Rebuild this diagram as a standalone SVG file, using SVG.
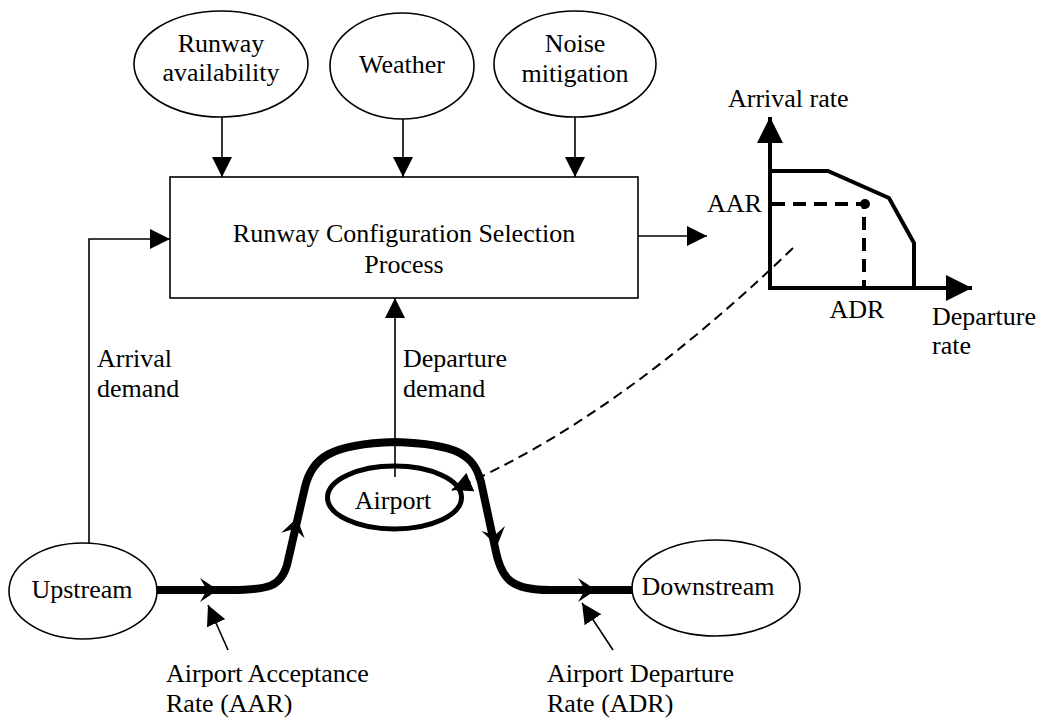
<svg xmlns="http://www.w3.org/2000/svg" width="1040" height="721" viewBox="0 0 1040 721">
<style>
text{font-family:"Liberation Serif","Times New Roman",serif;font-size:26px;fill:#000}
.c{text-anchor:middle}
.thin{fill:#fff;stroke:#000;stroke-width:1.6}
.ln{fill:none;stroke:#000;stroke-width:1.6}
.thick{fill:none;stroke:#000;stroke-width:8;stroke-linejoin:round}
.ax{fill:none;stroke:#000;stroke-width:4}
.dash{fill:none;stroke:#000;stroke-width:4;stroke-dasharray:13 8}
</style>
<defs>
<marker id="arr" markerUnits="userSpaceOnUse" markerWidth="20" markerHeight="20" refX="20" refY="10" orient="auto" viewBox="0 0 20 20">
<path d="M0,0 L20,10 L0,20 Z" fill="#000"/>
</marker>
<marker id="big" markerUnits="userSpaceOnUse" markerWidth="26" markerHeight="26" refX="26" refY="13" orient="auto" viewBox="0 0 26 26">
<path d="M0,0 L26,13 L0,26 Z" fill="#000"/>
</marker>
<path id="chev" d="M0,0 L-18,-12 L-11,0 L-18,12 Z" fill="#000"/>
</defs>

<g id="connectors">
<line class="ln" x1="222" y1="117" x2="222" y2="177" marker-end="url(#arr)"/>
<line class="ln" x1="403" y1="119" x2="403" y2="177" marker-end="url(#arr)"/>
<line class="ln" x1="575" y1="117" x2="575" y2="177" marker-end="url(#arr)"/>
<polyline class="ln" points="89,543 89,239 170,239" marker-end="url(#arr)"/>
<line class="ln" x1="638" y1="236" x2="707" y2="236" marker-end="url(#arr)"/>
<line class="ln" x1="395" y1="477" x2="395" y2="298" marker-end="url(#arr)"/>
<path class="thick" d="M157,590 L230,590 C270,590 281,586 287,565 L305,487 C312,458 330,444 395,442 C458,444 474,455 481,482 L496,552 C502,580 512,590 550,590 L632,590"/>
<use href="#chev" transform="translate(218,590)"/>
<use href="#chev" transform="translate(297,518) rotate(-77)"/>
<use href="#chev" transform="translate(497,546) rotate(78)"/>
<use href="#chev" transform="translate(596,590)"/>
<line class="ln" x1="228" y1="650" x2="208" y2="605" marker-end="url(#arr)"/>
<line class="ln" x1="613" y1="650" x2="582" y2="603" marker-end="url(#arr)"/>
<path d="M793,248 Q615,420 452,490" fill="none" stroke="#000" stroke-width="2" stroke-dasharray="10 6" marker-end="url(#arr)"/>
</g>

<g id="runway-availability">
<ellipse class="thin" cx="221" cy="64" rx="87" ry="53"/>
<text class="c" x="221" y="52">Runway</text>
<text class="c" x="221" y="81">availability</text>
</g>
<g id="weather">
<ellipse class="thin" cx="402" cy="66" rx="72" ry="53"/>
<text class="c" x="402" y="73">Weather</text>
</g>
<g id="noise-mitigation">
<ellipse class="thin" cx="575" cy="64" rx="81" ry="53"/>
<text class="c" x="575" y="52">Noise</text>
<text class="c" x="575" y="82">mitigation</text>
</g>
<g id="process">
<rect class="thin" x="170" y="177" width="468" height="121"/>
<text class="c" x="404" y="242">Runway Configuration Selection</text>
<text class="c" x="404" y="273">Process</text>
</g>
<g id="upstream">
<ellipse class="thin" cx="83" cy="591" rx="74" ry="48"/>
<text class="c" x="82" y="598">Upstream</text>
</g>
<g id="airport">
<ellipse cx="394.5" cy="497.5" rx="67" ry="31.5" fill="none" stroke="#000" stroke-width="5"/>
<text class="c" x="393" y="509">Airport</text>
</g>
<g id="downstream">
<ellipse class="thin" cx="716" cy="588" rx="84" ry="48"/>
<text class="c" x="708" y="595">Downstream</text>
</g>

<g id="labels">
<text x="97" y="367">Arrival</text>
<text x="97" y="397">demand</text>
<text x="403" y="367">Departure</text>
<text x="403" y="397">demand</text>
<text x="166" y="682">Airport Acceptance</text>
<text x="166" y="712">Rate (AAR)</text>
<text x="547" y="682">Airport Departure</text>
<text x="547" y="712">Rate (ADR)</text>
</g>

<g id="chart">
<line class="ax" x1="770" y1="288" x2="770" y2="117" marker-end="url(#big)"/>
<line class="ax" x1="768" y1="288" x2="972" y2="288" marker-end="url(#big)"/>
<polyline class="ax" points="770,171 828,171 889,198 914,243 914,288" stroke-linejoin="miter"/>
<polyline class="dash" points="772,204 864,204 864,288"/>
<circle cx="865" cy="204" r="5" fill="#000"/>
<text x="728" y="107">Arrival rate</text>
<text x="707" y="212">AAR</text>
<text class="c" x="857" y="318">ADR</text>
<text x="932" y="325">Departure</text>
<text x="932" y="354">rate</text>
</g>
</svg>
